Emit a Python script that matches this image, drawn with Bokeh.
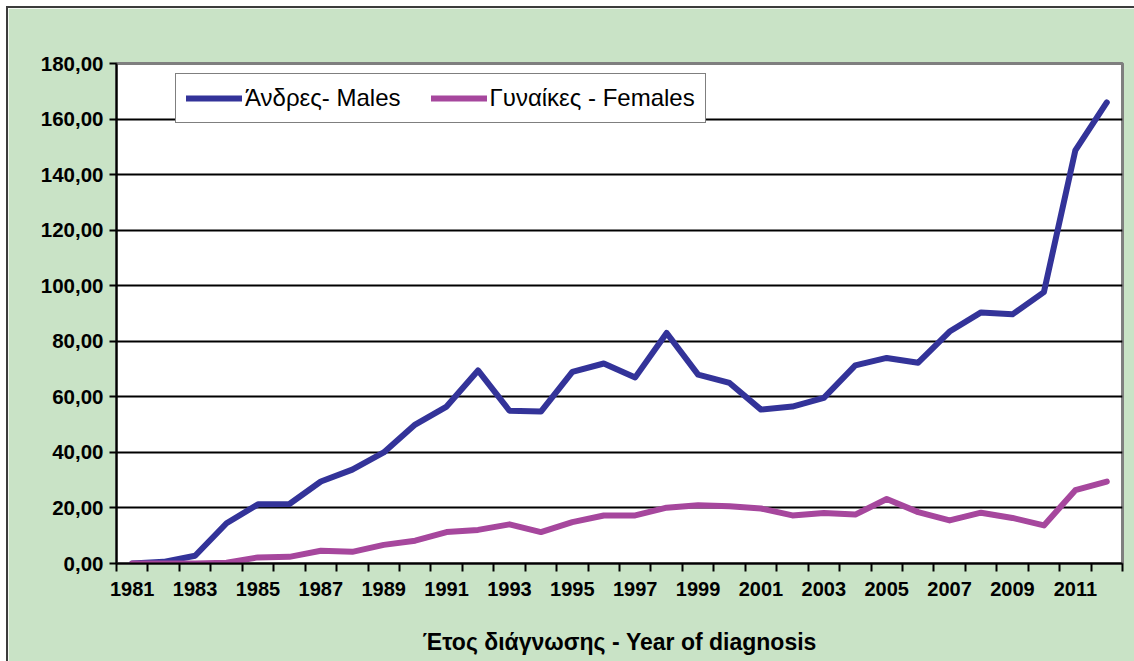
from bokeh.plotting import figure
from bokeh.models import FixedTicker, Legend, LegendItem, Range1d, ColumnDataSource
from bokeh.embed import file_html
from bokeh.resources import INLINE

years = list(range(1981, 2013))
males = [0.0, 0.6, 2.8, 14.5, 21.3, 21.4, 29.5, 33.8, 40.0, 50.0, 56.5, 69.5,
         55.0, 54.7, 69.0, 72.0, 67.0, 83.0, 68.0, 65.0, 55.4, 56.5, 59.6, 71.3,
         74.0, 72.3, 83.5, 90.4, 89.7, 97.7, 148.7, 166.0]
females = [0.0, 0.0, 0.0, 0.3, 2.2, 2.4, 4.6, 4.2, 6.7, 8.2, 11.3, 12.1,
           14.1, 11.3, 14.9, 17.3, 17.3, 20.1, 21.0, 20.6, 19.8, 17.3, 18.2, 17.6,
           23.2, 18.5, 15.5, 18.3, 16.4, 13.7, 26.4, 29.5]
y_ticks = [0, 20, 40, 60, 80, 100, 120, 140, 160, 180]
y_tick_labels = ["0,00", "20,00", "40,00", "60,00", "80,00", "100,00",
                 "120,00", "140,00", "160,00", "180,00"]
x_label_years = list(range(1981, 2013, 2))
series_names = ["Άνδρες- Males", "Γυναίκες - Females"]
x_title = "Έτος διάγνωσης - Year of diagnosis"

GREEN = "#C9E3C6"
MALE_C = "#333399"
FEMALE_C = "#A6479D"
FONT = "Liberation Sans"

src = ColumnDataSource(dict(year=years, males=males, females=females))

p = figure(width=1126, height=653, output_backend="svg", toolbar_location=None,
           x_range=Range1d(years[0] - 0.5, years[-1] + 0.5),
           y_range=Range1d(y_ticks[0], y_ticks[-1]),
           min_border_left=108, min_border_top=55, min_border_right=12,
           min_border_bottom=98, margin=(8, 0, 0, 8))
p.styles = {"outline": "2px solid #3c3c3c"}
p.border_fill_color = GREEN
p.background_fill_color = "white"
p.outline_line_color = "#7F7F7F"
p.outline_line_width = 3

# y axis
p.yaxis.ticker = FixedTicker(ticks=y_ticks, minor_ticks=[])
p.yaxis.major_label_overrides = {t: l for t, l in zip(y_ticks, y_tick_labels)}
p.yaxis.major_label_text_font = FONT
p.yaxis.major_label_text_font_style = "bold"
p.yaxis.major_label_text_font_size = "20.5px"
p.yaxis.major_label_text_color = "black"
p.yaxis.major_tick_in = 0
p.yaxis.major_tick_out = 7
p.yaxis.axis_line_color = "black"
p.yaxis.axis_line_width = 2
p.yaxis.major_tick_line_width = 2
p.yaxis.major_label_standoff = 6

# x axis: labels on odd years, tick marks between categories
bounds = [y - 0.5 for y in years] + [years[-1] + 0.5]
p.xaxis.ticker = FixedTicker(ticks=x_label_years, minor_ticks=bounds)
p.xaxis.major_tick_in = 0
p.xaxis.major_tick_out = 0
p.xaxis.minor_tick_in = 0
p.xaxis.minor_tick_out = 8
p.xaxis.minor_tick_line_color = "black"
p.xaxis.minor_tick_line_width = 2
p.xaxis.axis_line_color = "black"
p.xaxis.axis_line_width = 2
p.xaxis.major_label_text_font = FONT
p.xaxis.major_label_text_font_style = "bold"
p.xaxis.major_label_text_font_size = "20px"
p.xaxis.major_label_text_color = "black"
p.xaxis.major_label_standoff = 10
p.xaxis.axis_label = x_title
p.xaxis.axis_label_text_font = FONT
p.xaxis.axis_label_text_font_style = "bold"
p.xaxis.axis_label_text_font_size = "23px"
p.xaxis.axis_label_text_color = "black"
p.xaxis.axis_label_standoff = 30

p.xgrid.visible = False
p.ygrid.ticker = FixedTicker(ticks=y_ticks)
p.ygrid.grid_line_color = "black"
p.ygrid.grid_line_width = 2

r1 = p.line("year", "males", source=src, line_color=MALE_C, line_width=6,
            line_join="round", line_cap="round")
r2 = p.line("year", "females", source=src, line_color=FEMALE_C, line_width=6,
            line_join="round", line_cap="round")

legend = Legend(items=[LegendItem(label=series_names[0], renderers=[r1]),
                       LegendItem(label=series_names[1], renderers=[r2])],
                orientation="horizontal", location=(59, 440))
legend.label_text_font = FONT
legend.label_text_font_size = "24px"
legend.label_text_color = "black"
legend.glyph_width = 56
legend.glyph_height = 24
legend.label_standoff = 3
legend.spacing = 30
legend.padding = 10
legend.margin = 0
legend.border_line_color = "black"
legend.border_line_width = 1.5
legend.background_fill_color = "white"
legend.background_fill_alpha = 1
p.add_layout(legend, "center")

open("out.html", "w").write(file_html(p, INLINE))
